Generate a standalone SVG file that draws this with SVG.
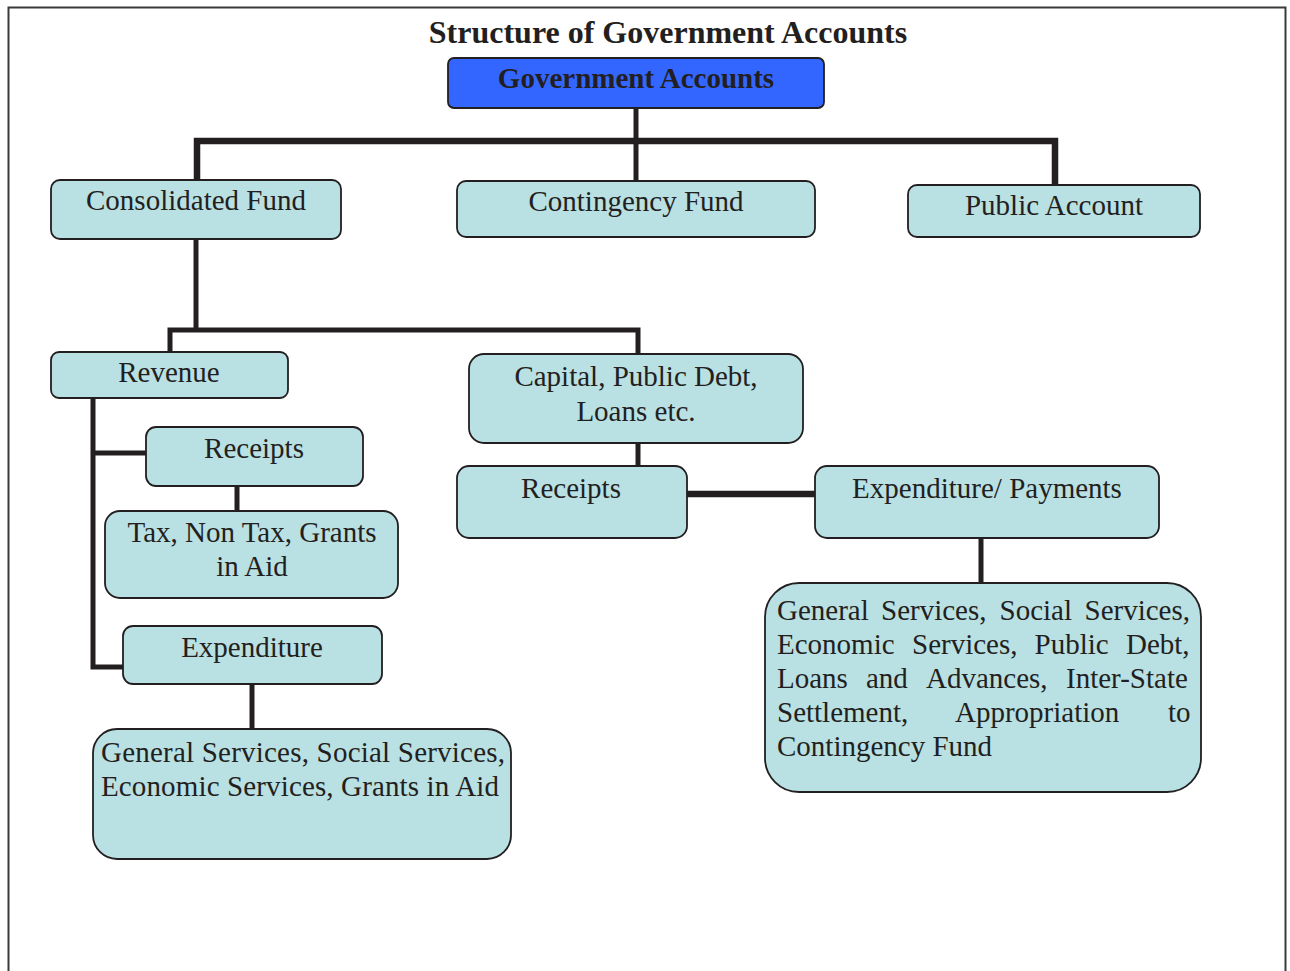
<svg xmlns="http://www.w3.org/2000/svg" width="1290" height="971" viewBox="0 0 1290 971">
<style>
.box{fill:#b9e0e3;stroke:#231f20;stroke-width:1.8}
.blue{fill:#3366ff;stroke:#231f20;stroke-width:1.8}
.t{font-family:"Liberation Serif","Times New Roman",serif;font-size:29px;fill:#231f20}
.c{text-anchor:middle}
.b{font-weight:bold}
.ln{fill:none;stroke:#231f20;stroke-width:5}
.lt{fill:none;stroke:#231f20;stroke-width:6.5}
</style>
<rect width="1290" height="971" fill="#ffffff"/>
<path d="M8.5,971 V7.5 H1285.5 V971" fill="none" stroke="#3a3a3a" stroke-width="2"/>
<text class="t c b" x="668" y="43" style="font-size:32px">Structure of Government Accounts</text>
<g id="connectors">
<path class="ln" d="M636,108 V181"/>
<path class="lt" d="M197,180 V141 H1055 V185"/>
<path class="ln" d="M196,239 V330"/>
<path class="ln" d="M170,352 V330 H638 V355"/>
<path class="ln" d="M93,398 V667 H123"/>
<path class="ln" d="M93,453 H146"/>
<path class="ln" d="M237,486 V511"/>
<path class="ln" d="M252,684 V729"/>
<path class="ln" d="M638,443 V467"/>
<path class="lt" d="M687,494 H815"/>
<path class="ln" d="M981,538 V583"/>
</g>
<g id="n-gov"><rect class="blue" x="448" y="58" width="376" height="50" rx="6"/><text class="t c b" x="636" y="88">Government Accounts</text></g>
<g id="n-consolidated"><rect class="box" x="51" y="180" width="290" height="59" rx="9"/><text class="t c" x="196" y="210">Consolidated Fund</text></g>
<g id="n-contingency"><rect class="box" x="457" y="181" width="358" height="56" rx="9"/><text class="t c" x="636" y="211">Contingency Fund</text></g>
<g id="n-public"><rect class="box" x="908" y="185" width="292" height="52" rx="9"/><text class="t c" x="1054" y="215">Public Account</text></g>
<g id="n-revenue"><rect class="box" x="51" y="352" width="237" height="46" rx="8"/><text class="t c" x="169" y="382">Revenue</text></g>
<g id="n-receipts1"><rect class="box" x="146" y="427" width="217" height="59" rx="10"/><text class="t c" x="254" y="458">Receipts</text></g>
<g id="n-tax"><rect class="box" x="105" y="511" width="293" height="87" rx="15"/><text class="t c" x="252" y="542">Tax, Non Tax, Grants</text><text class="t c" x="252" y="576">in Aid</text></g>
<g id="n-expenditure"><rect class="box" x="123" y="626" width="259" height="58" rx="10"/><text class="t c" x="252" y="657">Expenditure</text></g>
<g id="n-exp-detail"><rect class="box" x="93" y="729" width="418" height="130" rx="24"/><text class="t" x="101" y="762" textLength="404" lengthAdjust="spacing">General Services, Social Services,</text><text class="t" x="101" y="796" textLength="398" lengthAdjust="spacing">Economic Services, Grants in Aid</text></g>
<g id="n-capital"><rect class="box" x="469" y="354" width="334" height="89" rx="15"/><text class="t c" x="636" y="386">Capital, Public Debt,</text><text class="t c" x="636" y="421">Loans etc.</text></g>
<g id="n-receipts2"><rect class="box" x="457" y="466" width="230" height="72" rx="12"/><text class="t c" x="571" y="498">Receipts</text></g>
<g id="n-payments"><rect class="box" x="815" y="466" width="344" height="72" rx="12"/><text class="t c" x="987" y="498">Expenditure/ Payments</text></g>
<g id="n-pay-detail"><rect class="box" x="765" y="583" width="436" height="209" rx="34"/>
<text class="t" y="620"><tspan x="777">General</tspan><tspan x="881">Services,</tspan><tspan x="999.5">Social</tspan><tspan x="1084.5">Services,</tspan></text>
<text class="t" y="654"><tspan x="777">Economic</tspan><tspan x="912">Services,</tspan><tspan x="1034.5">Public</tspan><tspan x="1126">Debt,</tspan></text>
<text class="t" y="688"><tspan x="777">Loans</tspan><tspan x="866">and</tspan><tspan x="926">Advances,</tspan><tspan x="1066">Inter-State</tspan></text>
<text class="t" y="722"><tspan x="777">Settlement,</tspan><tspan x="955">Appropriation</tspan><tspan x="1168">to</tspan></text>
<text class="t" x="777" y="756">Contingency Fund</text>
</g>
</svg>
